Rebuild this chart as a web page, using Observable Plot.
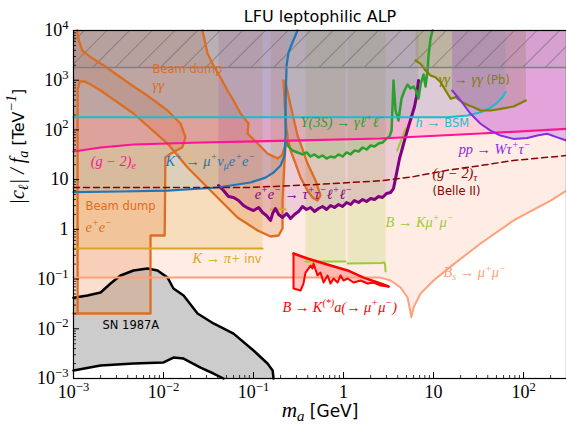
<!DOCTYPE html>
<html><head><meta charset="utf-8">
<script src="https://cdn.jsdelivr.net/npm/d3@7"></script>
<script src="https://cdn.jsdelivr.net/npm/@observablehq/plot@0.6"></script>
<style>body{margin:0;background:#fff} svg{display:block}</style>
</head><body>
<svg width="0" height="0" style="position:absolute"><defs>
<pattern id="hatch" width="16" height="16" patternUnits="userSpaceOnUse" patternTransform="rotate(45)">
<line x1="0" y1="0" x2="0" y2="16" stroke="#555" stroke-width="0.9"/></pattern></defs></svg>
<div id="chart"></div>
<script>
// ---------- tick labels ----------
const xMajor = [1e-3, 1e-2, 1e-1, 1, 10, 100];
const xTickLabels = ["10^{−3}", "10^{−2}", "10^{−1}", "1", "10", "10^{2}"];
const yMajor = [1e-3, 1e-2, 1e-1, 1, 10, 100, 1e3, 1e4];
const yTickLabels = ["10^{−3}", "10^{−2}", "10^{−1}", "1", "10", "10^{2}", "10^{3}", "10^{4}"];

// ---------- limits: [m_a (GeV), |c|/f_a (TeV^-1)] ----------
const bsMuMu = [[1e-3,0.107],[2.58,0.107],[3.33,0.0935],[4.30,0.0676],[5.14,0.0426],[5.5,0.0233],[5.65,0.0171],[6.04,0.0277],[7.17,0.051],[10,0.0935],[16.9,0.202],[33.3,0.519],[77.4,1.51],[200,3.80],[300,6.04]];
const snUpper = [[1e-3,0.042],[1.43e-3,0.0467],[2.0e-3,0.0536],[2.58e-3,0.0813],[3.33e-3,0.118],[4.64e-3,0.149],[6.64e-3,0.163],[8.58e-3,0.149],[0.0111,0.107],[0.0129,0.0646],[0.0167,0.0467],[0.0239,0.0203],[0.0359,0.0128],[0.060,8.0e-3],[0.1,3.66e-3],[0.143,2.0e-3],[0.163,1.45e-3],[0.167,1e-3]];
const snLower = [[1e-3,1.45e-3],[2.0e-3,1.82e-3],[4.64e-3,2.0e-3],[0.01,2.1e-3],[0.0129,2.64e-3],[0.0167,2.52e-3],[0.0258,1.66e-3],[0.0359,1.26e-3],[0.0464,1e-3]];
const beamDumpEE = [[1.10e-3,1e4],[1.145e-3,6295],[1.25e-3,3963],[1.55e-3,2904],[2.17e-3,1977],[4.49e-3,783],[6.59e-3,492],[0.0111,246],[0.0155,133],[0.0175,71.4],[0.0162,44.9],[0.012,33.1],[0.0105,28.3],[0.0103,0.752],[7.17e-3,0.752],[7.17e-3,0.0203],[1e-3,0.0203]];
const beamDumpGGLower = [[1.11e-3,621],[1.17e-3,942],[1.33e-3,942],[1.55e-3,820],[2.0e-3,621],[4.64e-3,214],[0.0111,53.3],[0.0185,17.5],[0.0308,6.95],[0.0664,1.73],[0.111,0.948],[0.155,0.718],[0.190,0.752],[0.210,1.04],[0.210,3.80],[0.221,24.3],[0.227,48.6]];
const beamDumpGGUpper = [[0.0271,1e4],[0.0308,3444],[0.0359,1977],[0.0430,1135],[0.0514,621],[0.060,391],[0.0718,214],[0.0880,135],[0.0858,84.7],[0.111,53.3],[0.143,33.6],[0.185,26.6],[0.205,30.5],[0.227,48.6]];
const beamDumpGGTongue = [[0.215,986],[0.227,900],[0.258,310],[0.308,77.3],[0.333,53.3],[0.398,21.1],[0.489,9.62],[0.555,4.80],[0.514,3.80],[0.452,4.37],[0.398,6.04],[0.333,11.0],[0.293,21.1],[0.258,38.5],[0.239,70.5],[0.227,155],[0.221,391]];
const kPlusMuNuEE = [[1e-3,5.6],[3.33e-3,5.77],[0.0111,6.04],[0.0398,6.95],[0.0926,8.75],[0.136,11.0],[0.167,13.9],[0.2,19.2],[0.221,30.5],[0.227,77.3],[0.227,391],[0.233,1977],[0.245,3606],[0.271,5741],[0.308,1e4]];
const gm2e = [[1e-3,36.8],[2e-3,44.3],[4.64e-3,50.9],[0.0111,53.3],[0.0258,55.8],[0.258,61.2],[2.58,67.2],[33.3,84.7],[300,105]];
const hToBSM = [[1e-3,180],[14.2,180],[23.9,195],[33.3,227],[43.0,280],[51.0,350],[58.5,460],[63.1,574]];
const perturbativity = [[1e-3,1800],[300,1800]];
const upsilon3S = [[0.227,61.2],[0.245,46.4],[0.271,38.5],[0.308,35.2],[0.350,32.1],[0.388,35.2],[0.430,29.2],[0.476,32.1],[0.528,27.9],[0.585,30.6],[0.648,26.6],[0.718,29.2],[0.794,27.9],[0.880,32.1],[0.975,29.2],[1.08,35.2],[1.20,32.1],[1.32,38.5],[1.47,36.8],[1.63,44.3],[1.80,40.4],[2.0,48.6],[2.21,46.4],[2.45,53.3],[2.71,55.8],[3.0,67.2],[3.24,73.8],[3.42,97.3],[3.59,986],[3.78,246],[4.08,155],[4.41,429],[4.76,621],[5.14,820],[5.55,681],[6.0,747],[6.47,593],[6.81,429],[7.17,820],[7.74,1303],[8.15,747],[8.58,1568],[8.80,3141],[9.26,6902],[9.75,1e4]];
const eeTauTauLL = [[0.0408,7.62],[0.0464,6.04],[0.0527,4.58],[0.060,4.37],[0.0681,3.80],[0.0774,3.02],[0.0880,2.63],[0.1,2.39],[0.114,2.75],[0.126,2.18],[0.139,1.90],[0.155,1.51],[0.163,2.08],[0.175,2.63],[0.190,1.99],[0.210,1.73],[0.233,2.08],[0.258,1.65],[0.285,1.99],[0.316,2.28],[0.350,2.88],[0.388,2.51],[0.430,2.75],[0.476,2.28],[0.528,2.63],[0.585,2.88],[0.648,2.51],[0.718,3.02],[0.794,2.75],[0.880,3.16],[0.975,2.88],[1.08,3.47],[1.20,3.16],[1.32,3.80],[1.47,3.47],[1.63,3.98],[1.80,3.63],[2.0,4.17],[2.21,3.98],[2.45,4.58],[2.71,4.37],[3.0,5.26],[3.33,5.51],[3.59,6.63],[3.78,10.5],[3.98,16.7],[4.19,26.6],[4.53,44.3],[4.89,73.8],[5.27,117],[5.70,186],[6.15,296],[6.47,470],[6.81,986]];
const gm2TauBelle2 = [[1e-3,6.95],[0.09,6.95],[0.5,7.98],[2.6,9.5],[6.0,11.5],[14.3,15.5],[33.3,19.2],[77.4,24.3],[300,30.5]];
const kPiInvA = [[1e-3,0.412],[0.126,0.412]];
const kPiInvB = [[0.155,2.51],[0.227,2.51]];
const bKMuMuA = [[0.378,0.225],[1.05,0.225]];
const bKMuMuB = [[1.11,0.206],[2.6,0.21],[2.85,0.215],[2.9,0.19],[2.93,0.142]];
const bKMuMuC = [[3.95,38.5],[4.89,107]];
const bKaUpper = [[0.278,0.327],[0.398,0.259],[0.718,0.187],[1.11,0.149],[1.67,0.107],[2.58,0.0813],[3.16,0.0708]];
const bKaLower = [[0.278,0.327],[0.278,0.0646],[0.333,0.0589],[0.359,0.0813],[0.378,0.135],[0.430,0.187],[0.452,0.163],[0.464,0.206],[0.514,0.118],[0.555,0.135],[0.60,0.0852],[0.664,0.118],[0.718,0.0813],[0.774,0.1026],[0.858,0.0852],[0.926,0.118],[1.0,0.0935],[1.11,0.1026],[1.29,0.0852],[1.55,0.0935],[1.85,0.0813],[2.15,0.0852],[2.58,0.0741],[3.16,0.0708]];
const ppWTauTau = [[16.1,621],[20,391],[25.8,211],[33.3,133],[43,97],[55.5,77],[77.4,66],[110,69],[142,77],[183,84],[237,71],[300,61]];
const ggPb = [[6.31,2495],[7.17,2138],[8.15,1568],[9.26,1245],[10.5,1150],[12.0,912],[13.6,621],[15.5,423],[17.6,456],[20.8,361],[24.8,310],[27.9,287],[33.3,246],[43.0,246],[55.5,266],[77.4,296],[106,391]];

// ---------- annotations ----------
const labels = [
  {m:7.55e-3, c:1641, text:"Beam dump", key:"bd"},
  {m:7.55e-3, c:747, text:"$γγ$", key:"bd"},
  {m:1.55e-3, c:22.1, text:"$(g − 2)_e$", key:"pink"},
  {m:0.0105, c:22.1, text:"$K^+ → μ^+ν_μe^+e^−$", key:"blue"},
  {m:1.36e-3, c:2.87, text:"Beam dump", key:"bd"},
  {m:1.36e-3, c:1.04, text:"$e^+e^−$", key:"bd"},
  {m:0.021, c:0.247, text:"$K → π+$ inv", key:"gold"},
  {m:2.1e-3, c:0.0116, text:"SN 1987A", key:"black"},
  {m:0.103, c:4.80, text:"$e^+e^− → τ^+τ^−ℓ^+ℓ^−$", key:"purple"},
  {m:0.333, c:135, text:"$Υ(3S) → γℓ^+ℓ^−$", key:"green"},
  {m:6.31, c:135, text:"$h →$ BSM", key:"cyan"},
  {m:11.4, c:986, text:"$γγ → γγ$ (Pb)", key:"olive"},
  {m:19.0, c:38.5, text:"$pp → Wτ^+τ^−$", key:"violet"},
  {m:9.75, c:12.7, text:"$(g − 2)_τ$", key:"darkred"},
  {m:9.75, c:5.77, text:"(Belle II)", key:"darkred"},
  {m:2.93, c:1.31, text:"$B → Kμ^+μ^−$", key:"ygreen"},
  {m:12.9, c:0.129, text:"$B_s → μ^+μ^−$", key:"salmon"},
  {m:0.210, c:0.0256, text:"$B → K^{(*)}a(→ μ^+μ^−)$", key:"red"}
];

const C = {bd:"#dd6d22", pink:"#ff1493", blue:"#1f77b4", gold:"#daa520", black:"#000", purple:"#800080",
  green:"#2ca02c", cyan:"#17becf", olive:"#808000", violet:"#8a2be2", darkred:"#8b0000",
  ygreen:"#9acd32", salmon:"#ffa07a", red:"#ff0000", gray:"#808080"};

const TOP = 1e4;
const toTop = pts => [...pts, [pts[pts.length-1][0], TOP], [pts[0][0], TOP]];
const fillL = (pts, color, op) => Plot.line(pts, {fill: color, fillOpacity: op, stroke: "none"});
const lineL = (pts, color, w, extra = {}) => Plot.line(pts, {stroke: color, strokeWidth: w, strokeLinejoin: "round", ...extra});

const ggRegion = [[1e-3, TOP], ...beamDumpGGUpper, ...beamDumpGGLower.slice().reverse(), [1e-3, 621]];
const snRegion = [...snUpper, ...snLower.slice().reverse()];
const bKaRegion = [...bKaUpper, ...bKaLower.slice().reverse()];

const xMinor = xMajor.flatMap(d => [2,3,4,5,6,7,8,9].map(k => k*d)).filter(v => v < 300);
const yMinor = yMajor.slice(0, 7).flatMap(d => [2,3,4,5,6,7,8,9].map(k => k*d));

const W = 566, H = 426, ML = 73, MR = 0, MT = 30, MB = 48;
const FW = W - ML - MR, FH = H - MT - MB;

const plot = Plot.plot({
  width: W, height: H, marginLeft: ML, marginRight: MR, marginTop: MT, marginBottom: MB,
  x: {type: "log", domain: [1e-3, 300], label: null},
  y: {type: "log", domain: [1e-3, 1e4], label: null},
  style: {background: "#fff"},
  marks: [
    // fills
    fillL(toTop(bsMuMu), C.salmon, 0.2),
    fillL(snRegion, "#cccccc", 1),
    fillL(toTop(kPiInvA), C.gold, 0.2),
    fillL(toTop(kPiInvB), C.gold, 0.2),
    fillL(toTop(bKMuMuA), C.ygreen, 0.2),
    fillL(toTop(bKMuMuB), C.ygreen, 0.2),
    fillL([...beamDumpEE, [1e-3, TOP]], C.bd, 0.22),
    fillL(ggRegion, C.bd, 0.22),
    fillL(beamDumpGGTongue, C.bd, 0.22),
    fillL([...kPlusMuNuEE, [1e-3, TOP]], C.blue, 0.12),
    fillL(toTop(eeTauTauLL), C.purple, 0.13),
    fillL(toTop(upsilon3S), C.green, 0.13),
    fillL(toTop(gm2e), C.pink, 0.14),
    fillL(toTop(hToBSM), C.cyan, 0.15),
    fillL(toTop(ggPb), C.olive, 0.22),
    fillL(toTop(ppWTauTau), C.violet, 0.25),
    fillL(bKaRegion, C.red, 0.22),
    fillL(toTop(perturbativity), C.gray, 0.12),
    fillL(toTop(perturbativity), "url(#hatch)", 1),
    // lines
    lineL(snUpper, "#000", 2.5),
    lineL(snLower, "#000", 2.5),
    lineL(beamDumpEE, C.bd, 2.3),
    lineL([[1.11e-3, 0.0203], ...beamDumpGGLower], C.bd, 2.3),
    lineL(beamDumpGGUpper, C.bd, 2.3),
    lineL([...beamDumpGGTongue, beamDumpGGTongue[0]], C.bd, 2.3),
    lineL(kPiInvA, C.gold, 2),
    lineL(kPiInvB, C.gold, 2),
    lineL(bKMuMuA, C.ygreen, 2),
    lineL(bKMuMuB, C.ygreen, 2),
    lineL(bKMuMuC, C.ygreen, 2),
    lineL(bsMuMu, C.salmon, 2),
    lineL(bKaLower, C.red, 2),
    lineL(bKaUpper, C.red, 2.5),
    lineL(eeTauTauLL, C.purple, 3),
    lineL(upsilon3S, C.green, 2.5),
    lineL(kPlusMuNuEE, C.blue, 2.2),
    lineL(gm2e, C.pink, 2.2),
    lineL(hToBSM, C.cyan, 2.2),
    lineL(ggPb, C.olive, 2.2),
    lineL(ppWTauTau, C.violet, 2),
    lineL(gm2TauBelle2, C.darkred, 1.5, {strokeDasharray: "6,4"}),
    lineL(perturbativity, C.gray, 1.5),
    // labels
    ...labels.map(l => Plot.text([l], {x: "m", y: "c", text: "text", fill: C[l.key], textAnchor: "start",
      fontSize: 11.5, fontFamily: "DejaVu Sans"})),
    // ticks
    Plot.tickX(xMajor, {x: d => d, insetTop: FH - 6, stroke: "#000"}),
    Plot.tickX(xMinor, {x: d => d, insetTop: FH - 3, stroke: "#000", strokeWidth: 0.8}),
    Plot.tickY(yMajor, {y: d => d, insetRight: FW - 6, stroke: "#000"}),
    Plot.tickY(yMinor, {y: d => d, insetRight: FW - 3, stroke: "#000", strokeWidth: 0.8}),
    Plot.axisX(xMajor, {tickSize: 0, tickPadding: 7, fontSize: 18, fontFamily: "Liberation Serif", label: null,
      tickFormat: d => xTickLabels[xMajor.indexOf(d)]}),
    Plot.axisY(yMajor, {tickSize: 0, tickPadding: 5, fontSize: 18, fontFamily: "Liberation Serif", label: null,
      tickFormat: d => yTickLabels[yMajor.indexOf(d)]}),
    Plot.frame({stroke: "#000", strokeWidth: 1.2}),
    Plot.text(["$m_a$ [GeV]"], {frameAnchor: "bottom", dy: 33, lineAnchor: "middle", fontSize: 17, fontFamily: "DejaVu Sans"}),
    Plot.text(["$|c_ℓ| / f_a$ [TeV$^{−1}$]"], {frameAnchor: "left", dx: -55, rotate: -90, lineAnchor: "middle", fontSize: 16, fontFamily: "DejaVu Sans"}),
    Plot.text(["LFU leptophilic ALP"], {frameAnchor: "top", dy: -14, lineAnchor: "middle", fontSize: 16, fontFamily: "DejaVu Sans"})
  ]
});
document.getElementById("chart").appendChild(plot);

// ---------- mini TeX rendering (sup/sub, math italics) ----------
const NS = "http://www.w3.org/2000/svg";
function renderTeX(el, str) {
  const size = parseFloat(getComputedStyle(el).fontSize) || 12;
  while (el.firstChild) el.removeChild(el.firstChild);
  let math = false, shift = 0, buf = "", i = 0;
  function add(txt, m, kind) {
    if (!txt) return;
    const base = m ? size * 1.25 : size;
    const t = document.createElementNS(NS, "tspan");
    if (m) { t.setAttribute("font-family", "Liberation Serif"); t.setAttribute("font-style", "italic"); }
    const target = kind === "sup" ? -0.4 * base : kind === "sub" ? 0.2 * base : 0;
    if (target - shift) t.setAttribute("dy", (target - shift).toFixed(2));
    shift = target;
    t.setAttribute("font-size", (kind ? 0.7 * base : base).toFixed(2));
    t.textContent = txt;
    el.appendChild(t);
  }
  while (i < str.length) {
    const ch = str[i];
    if (ch === "$") { add(buf, math, null); buf = ""; math = !math; i++; continue; }
    if (ch === "^" || ch === "_") {
      add(buf, math, null); buf = ""; i++;
      let grp;
      if (str[i] === "{") { const j = str.indexOf("}", i); grp = str.slice(i + 1, j); i = j + 1; }
      else { grp = str[i]; i++; }
      add(grp, math, ch === "^" ? "sup" : "sub");
      continue;
    }
    buf += ch; i++;
  }
  add(buf, math, null);
}
plot.querySelectorAll("text").forEach(el => {
  const s = el.textContent;
  if (/[$^_]/.test(s)) renderTeX(el, s);
});
</script></body></html>
